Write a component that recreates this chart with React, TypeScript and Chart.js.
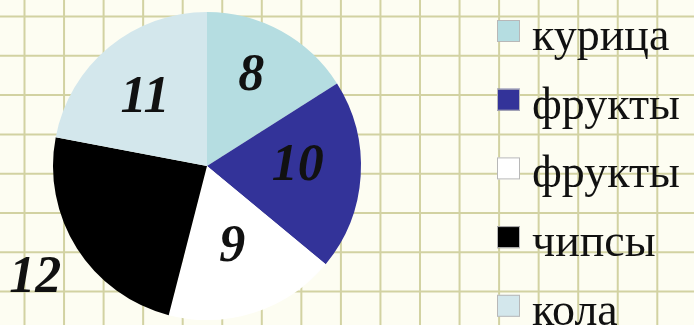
import React, { useEffect, useRef } from "react";
import { Chart, registerables } from "chart.js";

Chart.register(...registerables);

const categories = ["курица", "фрукты", "фрукты", "чипсы", "кола"];
const values = [8, 10, 9, 12, 11];
const colors = ["#b5dde1", "#333399", "#ffffff", "#000000", "#d3e7ec"];

const W = 694;
const H = 325;

const gridPlugin = {
  id: "gridBg",
  beforeDraw(chart: any) {
    const ctx = chart.ctx;
    ctx.save();
    ctx.fillStyle = "#fdfdf2";
    ctx.fillRect(0, 0, chart.width, chart.height);
    ctx.strokeStyle = "#d2d2a2";
    ctx.lineWidth = 2;
    const step = 39.55;
    for (let x = 24.5; x < chart.width; x += step) {
      ctx.beginPath();
      ctx.moveTo(x, 0);
      ctx.lineTo(x, chart.height);
      ctx.stroke();
    }
    for (let y = 16.5; y < chart.height; y += 39.3) {
      ctx.beginPath();
      ctx.moveTo(0, y);
      ctx.lineTo(chart.width, y);
      ctx.stroke();
    }
    ctx.restore();
  },
};

const labelPlugin = {
  id: "sliceLabels",
  afterDraw(chart: any) {
    const ctx = chart.ctx;
    const meta = chart.getDatasetMeta(0);
    const factors = [0.67, 0.59, 0.53, 1.32, 0.61];
    const angleShift = [-0.06, -0.1, 0, 0, -0.03];
    ctx.save();
    ctx.font = "italic bold 52px 'Liberation Serif', 'Times New Roman', serif";
    ctx.fillStyle = "#111111";
    ctx.textAlign = "center";
    ctx.textBaseline = "alphabetic";
    meta.data.forEach((arc: any, i: number) => {
      const p = arc.getProps(["x", "y", "startAngle", "endAngle", "outerRadius"], true);
      const mid = (p.startAngle + p.endAngle) / 2 + angleShift[i];
      const r = p.outerRadius * factors[i];
      const x = p.x + Math.cos(mid) * r;
      const y = p.y + Math.sin(mid) * r;
      ctx.fillText(String(values[i]), x, y + 17);
    });
    ctx.restore();
  },
};

const legendPlugin = {
  id: "customLegend",
  afterDraw(chart: any) {
    const ctx = chart.ctx;
    const labels = chart.data.labels as string[];
    const bg = chart.data.datasets[0].backgroundColor as string[];
    ctx.save();
    ctx.font = "46px 'Liberation Serif', 'Times New Roman', serif";
    ctx.textAlign = "left";
    ctx.textBaseline = "alphabetic";
    labels.forEach((lab, i) => {
      const top = 20 + i * 68.7;
      ctx.fillStyle = bg[i];
      ctx.fillRect(497, top, 23, 22);
      ctx.strokeStyle = "#b8b8b8";
      ctx.lineWidth = 1;
      ctx.strokeRect(497.5, top + 0.5, 22, 21);
      ctx.fillStyle = "#111111";
      ctx.fillText(lab, 532, top + 30);
    });
    ctx.restore();
  },
};

export default function App() {
  const ref = useRef<HTMLCanvasElement | null>(null);
  useEffect(() => {
    document.body.style.margin = "0";
    const chart = new Chart(ref.current as HTMLCanvasElement, {
      type: "pie",
      data: {
        labels: categories,
        datasets: [
          {
            data: values,
            backgroundColor: colors,
            borderWidth: 0,
          },
        ],
      },
      options: {
        animation: false,
        responsive: false,
        maintainAspectRatio: false,
        layout: { padding: { left: 53, right: 333, top: 12, bottom: 5 } },
        plugins: {
          legend: { display: false },
          tooltip: { enabled: false },
        },
      },
      plugins: [gridPlugin, labelPlugin, legendPlugin],
    });
    return () => chart.destroy();
  }, []);
  return (
    <div style={{ position: "absolute", left: 0, top: 0, width: W, height: H }}>
      <canvas ref={ref} width={W} height={H} style={{ width: W, height: H, display: "block" }} />
    </div>
  );
}
